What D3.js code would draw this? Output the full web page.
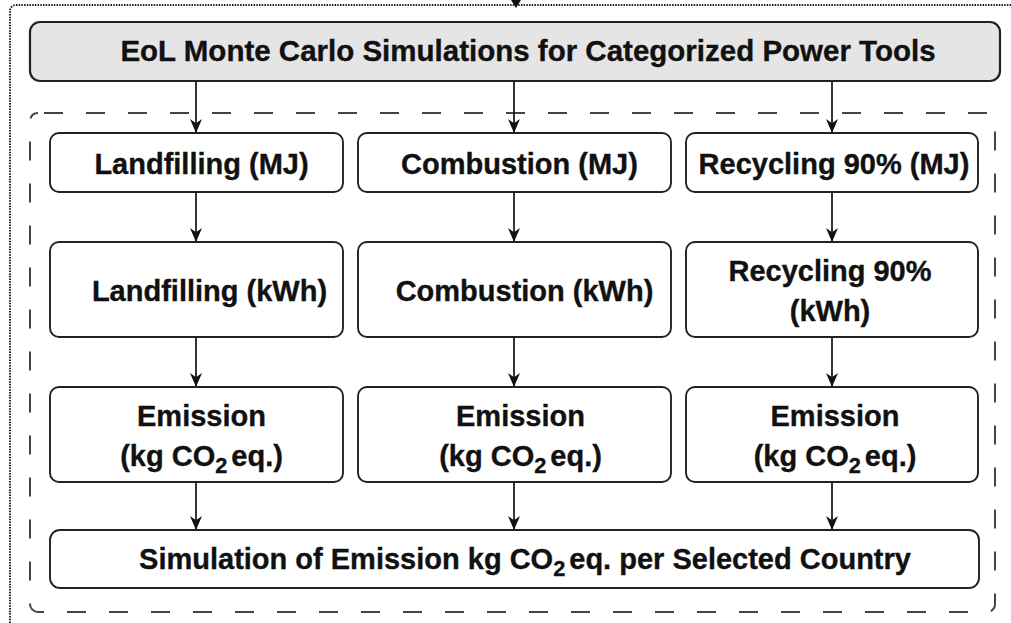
<!DOCTYPE html>
<html>
<head>
<meta charset="utf-8">
<script src="https://cdn.jsdelivr.net/npm/d3@7"></script>
<style>
  html, body { margin: 0; padding: 0; background: #fff; }
  text { font-family: "Liberation Sans", Arial, sans-serif; font-weight: bold; fill: #111; stroke: #111; stroke-width: 0.35px; }
</style>
</head>
<body>
<svg id="chart" width="1011" height="623"></svg>
<script>
// flowchart content
const title = 'EoL Monte Carlo Simulations for Categorized Power Tools';
const columns = ['landfill', 'combustion', 'recycling'];
const stages = ['mj', 'kwh', 'emission'];
const labels = {
  landfill:   [['Landfilling (MJ)'], ['Landfilling (kWh)'], ['Emission', '(kg CO|2|eq.)']],
  combustion: [['Combustion (MJ)'], ['Combustion (kWh)'], ['Emission', '(kg CO|2|eq.)']],
  recycling:  [['Recycling 90% (MJ)'], ['Recycling 90%', '(kWh)'], ['Emission', '(kg CO|2|eq.)']]
};
const footer = 'Simulation of Emission kg CO|2|eq. per Selected Country';

// layout
const colX = d3.scaleOrdinal().domain(columns).range([[50, 343], [358, 671], [686, 978]]);
const stageY = d3.scaleOrdinal().domain(stages).range([[133, 192], [242, 337], [387, 482]]);
const textDx = { landfill: [5, 13, 5], combustion: [5, 10, 6], recycling: [2, -2, 3] };

const svg = d3.select('#chart');

const defs = svg.append('defs');
defs.append('marker')
  .attr('id', 'arrow')
  .attr('viewBox', '0 0 10 10')
  .attr('refX', 10).attr('refY', 5)
  .attr('markerWidth', 14).attr('markerHeight', 12)
  .attr('markerUnits', 'userSpaceOnUse')
  .attr('orient', 'auto')
  .attr('preserveAspectRatio', 'none')
  .append('path')
  .attr('d', 'M0,0 L10,5 L0,10 L3,5 Z')
  .attr('fill', '#111');

// outer dotted frame (runs past the canvas on right/bottom)
svg.append('rect')
  .attr('x', 10).attr('y', 5).attr('width', 1010).attr('height', 640)
  .attr('rx', 6)
  .attr('fill', 'none').attr('stroke', '#222')
  .attr('stroke-width', 2).attr('stroke-dasharray', '1.5 1.2');

// small incoming arrow tip at top
svg.append('path')
  .attr('d', 'M511,0 L521,0 L516,8 Z')
  .attr('fill', '#111');

// dashed group frame
svg.append('rect')
  .attr('x', 30).attr('y', 113).attr('width', 965).attr('height', 499)
  .attr('rx', 8)
  .attr('fill', 'none').attr('stroke', '#444')
  .attr('stroke-width', 2).attr('stroke-dasharray', '19 23')
  .attr('stroke-dashoffset', -6);

// helper for a text line with a "|2|" subscript
function writeLine(g, str, x, y, size) {
  const parts = str.split('|');
  const t = g.append('text')
    .attr('x', x).attr('y', y)
    .attr('text-anchor', 'middle')
    .attr('font-size', size);
  parts.forEach((p, i) => {
    const sp = t.append('tspan').text(p);
    if (i % 2 === 1) {
      sp.attr('font-size', size * 0.75).attr('dy', 7);
    } else if (i > 0) {
      sp.attr('dy', -7).attr('dx', 4);
    }
  });
  return t;
}

// title box
const titleG = svg.append('g');
titleG.append('rect')
  .attr('x', 30).attr('y', 22).attr('width', 970).attr('height', 59)
  .attr('rx', 10)
  .attr('fill', '#e5e5e5').attr('stroke', '#222').attr('stroke-width', 2.2);
writeLine(titleG, title, 528, 61, 29.5);

// arrows from title to first stage
const arrowX = { landfill: 196, combustion: 514, recycling: 832 };
columns.forEach(c => {
  svg.append('line')
    .attr('x1', arrowX[c]).attr('x2', arrowX[c])
    .attr('y1', 81).attr('y2', 133)
    .attr('stroke', '#111').attr('stroke-width', 1.7)
    .attr('marker-end', 'url(#arrow)');
});

// column boxes
columns.forEach(c => {
  const [x0, x1] = colX(c);
  stages.forEach((s, i) => {
    const [y0, y1] = stageY(s);
    const g = svg.append('g');
    g.append('rect')
      .attr('x', x0).attr('y', y0).attr('width', x1 - x0).attr('height', y1 - y0)
      .attr('rx', 9)
      .attr('fill', '#fff').attr('stroke', '#222').attr('stroke-width', 1.9);
    const lines = labels[c][i];
    const cx = (x0 + x1) / 2 + textDx[c][i];
    const cy = (y0 + y1) / 2;
    const lh = 40;
    lines.forEach((ln, k) => {
      const by = cy + 11 + (k - (lines.length - 1) / 2) * lh;
      writeLine(g, ln, cx, by, 29);
    });
    // arrow to next
    const nextY = i < stages.length - 1 ? stageY(stages[i + 1])[0] : 530;
    svg.append('line')
      .attr('x1', arrowX[c]).attr('x2', arrowX[c])
      .attr('y1', y1).attr('y2', nextY)
      .attr('stroke', '#111').attr('stroke-width', 1.7)
      .attr('marker-end', 'url(#arrow)');
  });
});

// footer box
const footG = svg.append('g');
footG.append('rect')
  .attr('x', 50).attr('y', 530).attr('width', 929).attr('height', 58)
  .attr('rx', 10)
  .attr('fill', '#fff').attr('stroke', '#222').attr('stroke-width', 1.9);
writeLine(footG, footer, 525, 569, 29);
</script>
</body>
</html>
